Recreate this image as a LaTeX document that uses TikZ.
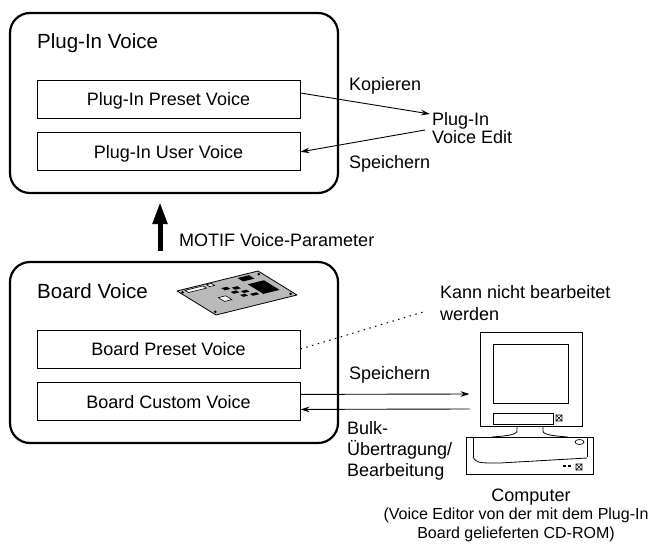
\documentclass[tikz,border=0pt]{standalone}
\usepackage{fontspec}
\setmainfont{Liberation Sans}
\usetikzlibrary{arrows.meta, positioning, calc}

\begin{document}
\begin{tikzpicture}[x=1pt, y=-1pt, >={Stealth[length=9pt, width=5.5pt]},
  group/.style={draw, line width=2.2pt, rounded corners=20pt, minimum width=328pt, minimum height=180pt, inner sep=0pt},
  voice/.style={draw, line width=0.9pt, minimum width=263pt, minimum height=38pt, text height=13pt, text depth=0pt, font=\fontsize{18}{21}\selectfont},
  title/.style={anchor=base west, inner sep=0pt, font=\fontsize{20.5}{24}\selectfont},
  note/.style={inner sep=0pt, font=\fontsize{18}{21}\selectfont},
  link/.style={->, line width=0.9pt}]

  \useasboundingbox (0,0) rectangle (648,546);

  % plug-in voices
  \node[group] (plugin) at (174,103) {};
  \node[title] (plugintitle) at (37,48) {Plug-In Voice};
  \node[voice] (pluginpreset) at (168.5,99) {Plug-In Preset Voice};
  \node[voice, below=14pt of pluginpreset] (pluginuser) {Plug-In User Voice};

  \node[note, anchor=north west, align=left, font=\fontsize{18}{18.5}\selectfont] (edit) at (432,112) {Plug-In\\Voice Edit};
  \node[note, anchor=base west] (copylabel) at (349,90) {Kopieren};
  \node[note, anchor=base west] (savelabel) at (349,168) {Speichern};
  \draw[link] ($(pluginpreset.east)+(0,-6)$) -- ($(edit.north west)+(-2,2)$);
  \draw[link] ($(edit.north west)+(-7,18)$) -- (pluginuser.east);

  % board voices
  \node[group, minimum height=181pt] (board) at (174,352.5) {};
  \node[title] (boardtitle) at (37,298) {Board Voice};
  \node[voice] (boardpreset) at (168.5,349) {Board Preset Voice};
  \node[voice, below=14pt of boardpreset] (boardcustom) {Board Custom Voice};

  % the board itself
  \begin{scope}[shift={(177,291)}, x={(81pt,20pt)}, y={(39pt,-24pt)}]
    \filldraw[fill=gray!55, line width=0.8pt, line join=round] (0,0) -- (1,0) -- (1,1) -- (0,1) -- cycle;
    \foreach \u/\v in {0.03/0.08, 0.96/0.1, 0.96/0.92, 0.04/0.9}
      \fill (\u,\v) circle[radius=1.4pt];
    \foreach \ua/\va/\ub/\vb in {0.72/0.32/0.92/0.72, 0.72/0.06/0.86/0.2,
        0.43/0.24/0.5/0.33, 0.53/0.3/0.6/0.39, 0.46/0.42/0.53/0.5,
        0.56/0.47/0.63/0.55, 0.6/0.62/0.68/0.7, 0.5/0.58/0.56/0.66}
      \fill (\ua,\va) -- (\ub,\va) -- (\ub,\vb) -- (\ua,\vb) -- cycle;
    \foreach \ua/\va/\ub/\vb in {0.08/0.04/0.3/0.13, 0.35/0.03/0.41/0.11, 0.27/0.5/0.36/0.66}
      \filldraw[fill=white, line width=0.6pt] (\ua,\va) -- (\ub,\va) -- (\ub,\vb) -- (\ua,\vb) -- cycle;
  \end{scope}

  % parameters go up
  \draw[line width=5pt, -{Triangle[length=22pt, width=14pt]}] ($(board.north)+(-14,-10)$) -- ($(plugin.south)+(-14,8)$);
  \node[note, anchor=base west] (motif) at (179,246) {MOTIF Voice-Parameter};

  \node[note, anchor=north west, align=left, font=\fontsize{18}{22}\selectfont] (noedit) at (440,285) {Kann nicht bearbeitet\\werden};
  \draw[line width=1pt, dash pattern=on 1.5pt off 4.5pt] (boardpreset.east) -- ($(noedit.north west)+(-17,27)$);

  % computer
  \node[draw, line width=0.9pt, minimum width=102pt, minimum height=94pt, inner sep=0pt] (monitor) at (531,379) {};
  \draw[line width=0.8pt] (493,344) rectangle (568,403);
  \draw[line width=0.8pt] (493,413) rectangle (553,424);
  \draw[line width=0.6pt] (556,415) rectangle (562,421) (556,415) -- (562,421) (556,421) -- (562,415);
  \draw[line width=0.8pt] (517,426) -- (517,431) .. controls (517,435) and (505,436) .. (492,437);
  \draw[line width=0.8pt] (543,426) -- (543,431) .. controls (543,435) and (555,436) .. (568,437);
  \draw[line width=0.9pt] (466,437) rectangle (593,474);
  \draw[line width=0.8pt] (473,437) -- (473,457) (587,437) -- (587,457);
  \draw[line width=0.8pt] (473,457) .. controls (477,463) .. (500,463) -- (587,458);
  \draw[line width=0.7pt] (579.5,442) ellipse[x radius=4.5pt, y radius=2.5pt];
  \draw[line width=1.2pt] (563,466) -- (566,466) (567.5,466) -- (570.5,466);
  \draw[line width=0.6pt] (576,464) rectangle (582,470) (576,464) -- (582,470) (576,470) -- (582,464);

  \draw[link] ($(boardcustom.east)+(0,-7.5)$) -- ($(monitor.west)+(-10,15)$);
  \draw[link] ($(monitor.west)+(-10,30)$) -- ($(boardcustom.east)+(0,7.5)$);
  \node[note, anchor=base west] (savelabel2) at (349,379) {Speichern};
  \node[note, anchor=north west, align=left] (bulk) at (347,421) {Bulk-\\Übertragung/\\Bearbeitung};

  \node[note, anchor=base] (pclabel) at (531,501) {Computer};
  \node[inner sep=0pt, anchor=north, align=center, font=\fontsize{16}{18.5}\selectfont] (pcnote) at (516,508) {(Voice Editor von der mit dem Plug-In\\Board gelieferten CD-ROM)};
\end{tikzpicture}
\end{document}
